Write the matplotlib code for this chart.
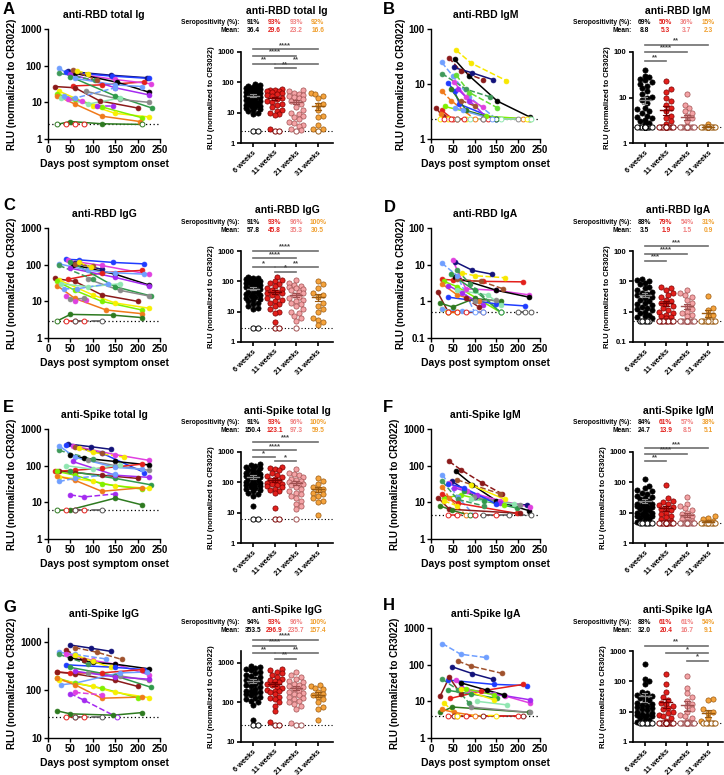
import numpy as np
import matplotlib
matplotlib.use('Agg')
import matplotlib.pyplot as plt
from matplotlib.ticker import FixedLocator, FuncFormatter, NullLocator

plt.rcParams['font.family'] = ['Liberation Sans', 'DejaVu Sans']
plt.rcParams['font.weight'] = 'bold'
plt.rcParams['axes.labelweight'] = 'bold'
plt.rcParams['axes.titleweight'] = 'bold'

# ---------------------------------------------------------------
# data (0 = below detection, drawn at the detection limit)
groups = ['6 weeks', '11 weeks', '21 weeks', '31 weeks']
titles = ['anti-RBD total Ig', 'anti-RBD IgM', 'anti-RBD IgG', 'anti-RBD IgA',
          'anti-Spike total Ig', 'anti-Spike IgM', 'anti-Spike IgG', 'anti-Spike IgA']
letters = ['A', 'B', 'C', 'D', 'E', 'F', 'G', 'H']
seropos = [[91, 93, 93, 92], [69, 50, 36, 15], [91, 93, 96, 100], [88, 79, 54, 31],
           [91, 93, 96, 100], [84, 61, 57, 38], [94, 93, 96, 100], [88, 61, 61, 54]]
means = [[36.4, 29.6, 23.2, 16.6], [8.8, 5.3, 3.7, 2.3], [57.8, 45.8, 35.3, 30.5], [3.5, 1.9, 1.5, 0.9],
         [150.4, 123.1, 97.3, 59.5], [24.7, 13.9, 8.5, 5.1], [353.5, 296.9, 235.7, 157.4], [32.0, 20.4, 16.7, 9.1]]
lods = [2.5, 2.3, 2.9, 0.5, 6.0, 4.4, 27, 4.1]
ylims = [(1, 1000), (1, 100), (1, 1000), (0.1, 100), (1, 1000), (1, 1000), (10, 2000), (1, 1000)]

lines_A = [
    ('navy', [45, 140, 220], [70, 55, 47]),
    ('blue', [40, 142, 225], [66, 52, 45]),
    ('red', [55, 120, 215], [28, 30, 36]),
    ('magenta', [55, 150, 230], [62, 42, 32]),
    ('black', [60, 155, 225], [62, 35, 19]),
    ('purple', [50, 150, 225], [60, 25, 16]),
    ('green', [50, 150, 232], [50, 15, 7]),
    ('grey', [85, 160, 225], [20, 12, 10]),
    ('dkred', [15, 60, 115, 200], [27, 25, 11, 7]),
    ('ltblue', [25, 60, 150, 210], [85, 45, 30, 27]),
    ('green_d', [25, 105], [62, 40]),
    ('yellow', [25, 100, 150, 225], [20, 8, 5, 4]),
    ('lime', [20, 60, 120, 210], [17, 12, 7.5, 3.8]),
    ('orange', [20, 60, 120, 205], [15, 9, 4.2, 3]),
    ('mint', [30, 90, 160], [13, 9, 13]),
    ('brown_d', [55, 110], [75, 40]),
    ('yellow_d', [65, 90], [72, 60]),
    ('purple_d', [110, 145], [8, 8]),
    ('magenta_d', [45, 75], [12, 11]),
    ('ltblue_d', [35, 60, 150], [15, 13, 25]),
    ('dkgreen', [20, 50, 120, 210], [0, 3, 2.6, 0]),
    ('red_lod', [40, 60, 80], [0, 0, 0]),
]
lines_B = [
    ('yellow_d', [58, 92, 173], [41, 24, 11.5]),
    ('black', [54, 88, 152, 227], [28, 14, 4.9, 2.5]),
    ('navy', [52, 94, 142], [20, 16, 12]),
    ('dkred_d', [41, 69, 119], [30, 17, 12]),
    ('ltblue_d', [25, 50, 88, 150], [24.6, 14, 5.8, 0]),
    ('green_d', [25, 81, 136], [15.5, 8, 5.8]),
    ('lime_d', [58, 88, 152], [14.5, 7, 3.7]),
    ('orange_d', [25, 46, 100], [7.4, 5, 0]),
    ('blue', [38, 54, 65, 150], [10.5, 7.6, 4.3, 0]),
    ('magenta', [52, 81, 119], [11, 5.8, 3.8]),
    ('purple', [62, 88, 127, 225], [8, 5, 2.5, 0]),
    ('dkred', [12, 27, 60, 120], [3.6, 2.6, 0, 0]),
    ('red', [25, 50, 130], [3.3, 0, 0]),
    ('lime', [31, 127, 227], [3.9, 2.6, 0]),
    ('dkgreen', [46, 81, 150], [8.1, 3.3, 0]),
    ('ltblue', [56, 73, 140], [3.7, 3.3, 0]),
    ('orange', [23, 60, 210], [2.8, 0, 0]),
    ('brown_d', [69, 100], [5, 4]),
    ('yellow', [20, 40, 80, 220], [0, 0, 0, 0]),
    ('grey', [60, 120, 200], [0, 0, 0]),
    ('mint', [90, 160, 230], [0, 0, 0]),
    ('red_lod', [30, 45, 75], [0, 0, 0]),
]
lines_C = [
    ('blue', [40, 70, 145, 215], [140, 135, 115, 105]),
    ('navy', [60, 120], [110, 75]),
    ('magenta', [45, 120, 225], [130, 95, 55]),
    ('red', [45, 120, 210], [40, 60, 70]),
    ('dkred', [15, 60, 120, 200], [42, 35, 15, 10]),
    ('black', [55, 150, 225], [100, 55, 28]),
    ('purple', [50, 150, 225], [80, 45, 27]),
    ('green', [50, 150, 230], [120, 25, 14]),
    ('grey', [90, 160, 225], [40, 20, 14]),
    ('ltblue', [25, 90, 150, 215], [105, 70, 60, 55]),
    ('green_d', [25, 100], [95, 40]),
    ('yellow', [25, 100, 150, 225], [38, 15, 9, 6.5]),
    ('lime', [20, 60, 120, 210], [35, 20, 10, 5.8]),
    ('orange', [20, 60, 130, 210], [27, 12, 5.8, 4.6]),
    ('brown_d', [60, 100], [105, 90]),
    ('yellow_d', [70, 95], [115, 85]),
    ('mint', [30, 90, 160], [30, 25, 30]),
    ('magenta_d', [40, 60, 85], [14, 10, 11]),
    ('grey', [50, 80], [11.5, 12]),
    ('ltblue_d', [35, 65, 135], [22, 22, 30]),
    ('dkgreen', [20, 50, 145, 210], [0, 4.4, 4.2, 3.6]),
    ('red_lod', [40, 60, 80], [0, 0, 0]),
    ('grey_lod', [60, 120], [0, 0]),
]
lines_D = [
    ('navy', [55, 95, 140], [12, 7, 5.5]),
    ('magenta', [50, 80, 150, 225], [13, 2.2, 2, 1.5]),
    ('yellow_d', [70, 100, 170], [6, 5, 4.4]),
    ('red', [25, 50, 120, 210], [4, 3.8, 3.5, 3.4]),
    ('black', [55, 150, 225], [4.5, 2, 1.3]),
    ('brown_d', [60, 115, 165], [4, 3.5, 2.2]),
    ('ltblue_d', [25, 60, 100], [11, 5, 0]),
    ('lime', [30, 60, 160], [3.5, 2.5, 0]),
    ('green', [45, 100, 160], [5.5, 2, 0]),
    ('blue', [40, 110, 150, 215], [1.3, 1, 0.85, 0.75]),
    ('orange', [25, 60, 110], [3, 1.5, 1]),
    ('dkred', [15, 40, 120], [1.8, 0, 0]),
    ('dkgreen', [20, 50, 100, 160], [0.9, 0.7, 1.2, 1]),
    ('purple', [40, 70, 120], [2.7, 1.7, 0.8]),
    ('grey', [100, 150], [1, 1.1]),
    ('mint', [60, 130, 160], [2, 1.5, 0.8]),
    ('dkred_d', [80, 110], [1.2, 0.7]),
    ('yellow', [25, 40, 60], [0.6, 0, 0]),
    ('ltblue', [25, 70, 120], [0.6, 0.55, 0]),
    ('green_d', [60, 90, 160], [7, 3, 0]),
    ('grey_lod', [200, 215, 230], [0, 0, 0]),
    ('red_lod', [40, 60, 80], [0, 0, 0]),
]
lines_E = [
    ('navy', [45, 95, 140], [390, 330, 280]),
    ('blue', [40, 120, 215], [370, 220, 65]),
    ('magenta', [55, 150, 225], [350, 200, 140]),
    ('brown_d', [60, 120], [320, 220]),
    ('yellow_d', [70, 100, 170], [300, 230, 170]),
    ('black', [50, 80, 150, 225], [200, 160, 130, 105]),
    ('grey', [90, 150, 225], [140, 100, 75]),
    ('green_d', [25, 100], [260, 150]),
    ('ltblue', [25, 60, 150, 210], [350, 170, 90, 80]),
    ('red', [15, 60, 120, 210], [70, 75, 85, 110]),
    ('dkred', [25, 60, 120, 200], [70, 65, 55, 45]),
    ('green', [50, 150, 230], [70, 45, 30]),
    ('purple', [55, 150, 225], [130, 55, 48]),
    ('yellow', [25, 100, 150, 225], [50, 38, 28, 24]),
    ('lime', [20, 60, 120, 210], [70, 55, 32, 23]),
    ('orange', [20, 60, 120, 210], [52, 40, 20, 25]),
    ('purple_d', [50, 80, 150], [16, 14, 17]),
    ('dkgreen', [20, 50, 150, 210], [0, 6.3, 13, 8.5]),
    ('mint', [40, 100, 160], [100, 80, 105]),
    ('ltblue_d', [25, 60, 150], [37, 45, 60]),
    ('red_lod', [40, 60, 80], [0, 0, 0]),
    ('grey_lod', [60, 120], [0, 0]),
]
lines_F = [
    ('dkred_d', [42, 68, 117, 163], [130, 78, 34, 17]),
    ('black', [57, 95, 150, 225], [70, 30, 11, 5.9]),
    ('brown_d', [60, 159], [41, 17]),
    ('yellow', [91, 170], [30, 12]),
    ('navy', [49, 102, 151, 220], [37, 14, 9.5, 8.5]),
    ('magenta', [42, 83, 159, 227], [33, 20, 11, 7.5]),
    ('purple', [53, 106, 159], [25, 16, 9.5]),
    ('lime', [30, 68, 167], [13, 16, 8.5]),
    ('ltblue_d', [26, 61, 100], [57, 14, 0]),
    ('green_d', [26, 61, 121], [37, 12, 8]),
    ('orange_d', [26, 42, 80], [27, 13, 0]),
    ('red', [26, 61, 197], [17, 9.5, 5]),
    ('dkred', [17, 42, 205], [13, 6.5, 5]),
    ('dkgreen', [21, 49, 90], [8, 6, 0]),
    ('green', [76, 121, 197], [20, 11, 7]),
    ('grey', [98, 205], [14, 8.5]),
    ('mint', [91, 190], [12, 9]),
    ('blue', [40, 75, 150], [32, 25, 9]),
    ('yellow_d', [30, 60], [11, 8]),
    ('red_lod', [40, 60, 100, 150], [0, 0, 0, 0]),
    ('grey_lod', [120, 180, 230], [0, 0, 0]),
]
lines_G = [
    ('navy', [50, 95, 140], [880, 760, 650]),
    ('brown_d', [60, 110, 165], [780, 620, 440]),
    ('ltblue_d', [25, 60, 130], [620, 560, 450]),
    ('green_d', [25, 90], [560, 350]),
    ('dkred_d', [40, 80], [700, 420]),
    ('magenta', [40, 100, 150, 225], [580, 420, 350, 210]),
    ('black', [50, 100, 150, 225], [480, 380, 350, 280]),
    ('yellow', [60, 100, 140], [550, 400, 300]),
    ('blue', [40, 150, 215], [340, 300, 270]),
    ('red', [20, 50, 120, 210], [240, 230, 230, 270]),
    ('dkred', [20, 60, 150, 200], [240, 220, 160, 120]),
    ('green', [50, 150, 230], [300, 200, 115]),
    ('grey', [90, 160, 225], [230, 200, 160]),
    ('ltblue', [30, 60, 160, 220], [130, 140, 230, 240]),
    ('purple', [60, 150, 225], [250, 190, 170]),
    ('lime', [20, 60, 120, 200], [180, 140, 110, 70]),
    ('yellow', [25, 100, 150, 225], [165, 120, 90, 70]),
    ('orange', [20, 60, 120, 210], [180, 130, 68, 72]),
    ('magenta_d', [60, 120], [90, 80]),
    ('purple_d', [50, 80, 155], [85, 62, 0]),
    ('dkgreen', [20, 50, 145, 210], [37, 32, 30, 34]),
    ('red_lod', [40, 60, 80], [0, 0, 0]),
    ('grey_lod', [60, 120], [0, 0]),
]
lines_H = [
    ('ltblue_d', [26, 68, 125], [376, 193, 157]),
    ('brown_d', [62, 91, 163], [125, 92, 58]),
    ('navy', [49, 95, 142], [87, 57, 40]),
    ('blue', [39, 144, 220], [38, 29, 27]),
    ('red', [44, 114, 212], [12, 19, 29]),
    ('dkred', [21, 42, 68], [14, 45, 16]),
    ('magenta', [57, 83, 170, 227], [38, 20, 14, 9]),
    ('purple', [68, 144, 227], [23, 16, 11]),
    ('black', [68, 129, 167], [32, 20, 15]),
    ('green_d', [26, 61, 87], [40, 21, 9]),
    ('green', [38, 91, 151], [20, 16, 12]),
    ('lime', [80, 144], [22, 15]),
    ('yellow', [68, 144], [22, 11]),
    ('dkgreen', [21, 49, 225], [5, 7, 5]),
    ('grey', [91, 227], [7, 5]),
    ('orange', [25, 53, 100], [6, 5, 0]),
    ('mint', [106, 174], [10, 8]),
    ('dkred', [53, 120, 210], [0, 0, 0]),
    ('red_lod', [40, 60, 80, 200], [0, 0, 0, 0]),
    ('yellow_d', [30, 60, 150], [9, 0, 0]),
]

dots_A = [
    [85, 80, 75, 70, 68, 65, 62, 60, 58, 55, 52, 50, 48, 45, 42, 40, 38, 36, 34, 32, 30, 28, 26, 25, 24, 22, 21,
     20, 19, 18, 17, 16, 15, 14, 13, 12, 11, 10, 9, 0, 0],
    [62, 58, 55, 52, 50, 48, 45, 42, 38, 35, 30, 28, 25, 22, 20, 18, 15, 12, 11, 10, 9, 8.5, 3, 0, 0],
    [55, 50, 45, 42, 38, 35, 32, 30, 28, 25, 22, 20, 15, 12, 10, 9, 8, 7, 6, 5, 4.5, 4, 3.5, 3, 2.6, 0],
    [45, 42, 35, 30, 20, 18, 12, 8, 7, 4, 3, 2.8, 0],
]
dots_B = [
    [40, 30, 28, 26, 24, 22, 20, 18, 16, 14, 12, 10.5, 10, 9, 7.5, 6, 5.5, 5, 4.5, 4, 3.8, 3.5, 3.2, 3, 2.8, 2.6,
     0, 0, 0, 0, 0, 0, 0, 0, 0, 0, 0, 0, 0, 0, 0, 0],
    [23, 15, 13, 10, 8.5, 7, 6, 5, 4, 3.5, 3, 2.6, 0, 0, 0, 0, 0, 0, 0, 0, 0, 0],
    [12, 7, 6, 5, 4.5, 4, 3.5, 3, 0, 0, 0, 0, 0, 0, 0, 0, 0, 0, 0, 0, 0, 0],
    [2.6, 0, 0, 0, 0, 0, 0, 0, 0, 0, 0, 0, 0],
]
dots_C = [
    [135, 130, 125, 120, 115, 110, 105, 100, 95, 90, 85, 80, 75, 70, 65, 60, 55, 50, 45, 42, 40, 38, 35, 32, 30,
     28, 26, 25, 22, 20, 18, 15, 13, 12, 0, 0],
    [140, 110, 100, 90, 80, 70, 60, 55, 50, 45, 42, 40, 35, 30, 28, 25, 22, 20, 18, 15, 12, 10, 9, 4.5, 0, 0],
    [110, 90, 75, 70, 65, 60, 55, 50, 45, 40, 35, 30, 28, 25, 22, 20, 18, 15, 12, 10, 9, 7, 6, 5, 0],
    [105, 80, 60, 40, 35, 30, 20, 15, 12, 10, 6, 5.5, 4.5, 3.5],
]
dots_D = [
    [12, 11, 10, 9, 8, 6.5, 6, 5, 4.5, 4, 3.8, 3.5, 3, 2.8, 2.5, 2.2, 2, 1.8, 1.6, 1.4, 1.3, 1.2, 1.1, 1, 0.9,
     0.8, 0.7, 0.65, 0.6, 0, 0, 0, 0, 0],
    [6.5, 6, 5, 4, 3.5, 3, 2.5, 2.2, 2, 1.8, 1.5, 1.3, 1.1, 1, 0.9, 0.8, 0.7, 0.65, 0.6, 0, 0, 0, 0, 0, 0, 0],
    [5, 4, 3.5, 3, 2.5, 2, 1.5, 1.2, 1, 0.9, 0.8, 0.7, 0, 0, 0, 0, 0, 0, 0, 0, 0, 0, 0],
    [3.3, 1.3, 1.1, 0.8, 0.7, 0, 0, 0, 0, 0, 0, 0, 0],
]
dots_E = [
    [400, 380, 350, 330, 300, 280, 260, 240, 220, 200, 190, 180, 170, 160, 150, 140, 130, 120, 110, 100, 95, 90,
     85, 80, 75, 70, 65, 60, 55, 50, 45, 40, 35, 16, 0, 0],
    [320, 300, 280, 250, 200, 180, 160, 150, 130, 120, 110, 100, 95, 90, 85, 80, 75, 70, 60, 55, 50, 45, 14, 0, 0],
    [280, 200, 190, 170, 150, 130, 120, 110, 100, 95, 90, 85, 80, 70, 60, 50, 45, 40, 35, 30, 25, 20, 17, 13, 0],
    [140, 110, 90, 70, 60, 55, 45, 40, 35, 30, 25, 22, 8.5],
]
dots_F = [
    [130, 75, 65, 55, 50, 45, 40, 35, 32, 30, 28, 25, 22, 20, 19, 18, 17, 16, 15, 14, 13, 12, 11, 10, 9.5, 9, 8.5,
     8, 7.5, 7, 6.5, 6, 5.5, 5, 0, 0, 0, 0, 0, 0],
    [80, 30, 25, 22, 20, 18, 15, 14, 13, 12, 10, 9, 8, 7, 6, 5.5, 5, 0, 0, 0, 0, 0, 0, 0, 0, 0, 0],
    [32, 20, 16, 14, 12, 10, 9, 8, 7, 6, 5.5, 5, 0, 0, 0, 0, 0, 0, 0, 0, 0, 0],
    [7.5, 6.5, 6, 5.5, 5, 0, 0, 0, 0, 0, 0, 0, 0],
]
dots_G = [
    [850, 800, 750, 700, 650, 600, 550, 500, 480, 450, 400, 380, 350, 320, 300, 280, 260, 240, 220, 200, 190, 180,
     170, 160, 150, 140, 130, 120, 110, 100, 85, 37, 0, 0],
    [720, 650, 600, 550, 500, 450, 400, 380, 350, 320, 300, 280, 250, 230, 210, 200, 190, 180, 160, 140, 130, 120,
     100, 80, 60, 32, 0, 0],
    [600, 500, 450, 400, 350, 320, 300, 280, 260, 240, 220, 200, 180, 170, 160, 150, 140, 130, 120, 110, 100, 90,
     80, 70, 30, 0, 0],
    [280, 260, 230, 220, 180, 160, 150, 140, 120, 100, 75, 70, 35],
]
dots_H = [
    [370, 120, 100, 80, 45, 40, 35, 32, 30, 28, 25, 22, 20, 18, 16, 15, 14, 13, 12, 11, 10, 9, 8.5, 8, 7.5, 7, 6.5,
     6, 5.5, 5, 4.5, 0, 0, 0, 0, 0, 0],
    [180, 80, 45, 30, 25, 20, 18, 15, 13, 12, 10, 9, 8, 7, 6, 5, 0, 0, 0, 0, 0, 0, 0, 0, 0, 0, 0, 0],
    [150, 60, 40, 30, 22, 18, 15, 12, 10, 8, 7, 6, 5, 0, 0, 0, 0, 0, 0, 0, 0, 0, 0, 0],
    [27, 25, 12, 10, 9, 6, 5, 0, 0, 0, 0, 0, 0],
]

# significance bars: (group i, group j, label, height in axes fraction)
sig_A = [(0, 3, '****', 1.03), (0, 2, '****', 0.96), (0, 1, '**', 0.87), (1, 3, '**', 0.87), (1, 2, '**', 0.82)]
sig_B = [(0, 3, '**', 1.08), (0, 2, '****', 1.0), (0, 1, '**', 0.9)]
sig_C = [(0, 3, '****', 1.0), (0, 2, '****', 0.92), (0, 1, '*', 0.82), (1, 3, '**', 0.82), (1, 2, '*', 0.77)]
sig_D = [(0, 3, '***', 1.05), (0, 2, '****', 0.97), (0, 1, '***', 0.89)]
sig_E = [(0, 3, '***', 1.11), (0, 2, '****', 1.02), (0, 1, '*', 0.94), (1, 2, '*', 0.9)]
sig_F = [(0, 3, '***', 1.04), (0, 2, '****', 0.98), (0, 1, '**', 0.9)]
sig_G = [(0, 3, '****', 1.12), (0, 2, '****', 1.056), (0, 1, '**', 0.974), (1, 3, '**', 0.974), (1, 2, '**', 0.914)]
sig_H = [(0, 3, '**', 1.055), (1, 3, '*', 0.975), (2, 3, '*', 0.895)]

all_lines = [lines_A, lines_B, lines_C, lines_D, lines_E, lines_F, lines_G, lines_H]
all_dots = [dots_A, dots_B, dots_C, dots_D, dots_E, dots_F, dots_G, dots_H]
all_sig = [sig_A, sig_B, sig_C, sig_D, sig_E, sig_F, sig_G, sig_H]

# ---------------------------------------------------------------
# styles
subject_style = {
    'blue': ('#1f3cff', '-'), 'navy': ('#12127a', '-'), 'black': ('#000000', '-'),
    'red': ('#e3201c', '-'), 'dkred': ('#8b1a1a', '-'), 'magenta': ('#e040e0', '-'),
    'purple': ('#a42af0', '-'), 'green': ('#2f9a4a', '-'), 'dkgreen': ('#2e7a20', '-'),
    'lime': ('#7ff000', '-'), 'yellow': ('#f8f000', '-'), 'orange': ('#f07a1a', '-'),
    'grey': ('#8a8a8a', '-'), 'ltblue': ('#6f9fff', '-'), 'mint': ('#8fe6b0', '-'),
    'brown_d': ('#a0522d', '--'), 'yellow_d': ('#f8e800', '--'), 'purple_d': ('#a42af0', '--'),
    'ltblue_d': ('#6f9fff', '--'), 'green_d': ('#3f9a5a', '--'), 'orange_d': ('#f07a1a', '--'),
    'dkred_d': ('#8b1a1a', '--'), 'magenta_d': ('#e040e0', '--'), 'lime_d': ('#66dd33', '--'),
    'red_lod': ('#e3201c', '-.'), 'grey_lod': ('#555555', '-.'),
}
face = ['#000000', '#e3201c', '#f4a3a6', '#f5a33c']
edge = ['#000000', '#7a0000', '#a05050', '#9a5a10']
mean_col = ['#8a8a8a', '#7a0000', '#a05050', '#9a5a10']
sero_col = ['#000000', '#e3201c', '#f08080', '#f0a030']

W, H = 724, 775
fig = plt.figure(figsize=(W / 100, H / 100), dpi=100)


def add_ax(l, t, r, b):
    return fig.add_axes([l / W, 1 - b / H, (r - l) / W, (b - t) / H])


def fmt(v, pos=None):
    return '%g' % v


def style_axis(ax, ylim, size, lw=1.0):
    ax.set_yscale('log')
    ax.set_ylim(*ylim)
    dec = [10.0 ** k for k in range(int(np.floor(np.log10(ylim[0]))), int(np.log10(ylim[1])) + 1)
           if ylim[0] <= 10.0 ** k <= ylim[1]]
    ax.yaxis.set_major_locator(FixedLocator(dec))
    ax.yaxis.set_minor_locator(NullLocator())
    ax.yaxis.set_major_formatter(FuncFormatter(fmt))
    for s in ['top', 'right']:
        ax.spines[s].set_visible(False)
    for s in ['left', 'bottom']:
        ax.spines[s].set_linewidth(lw)
    ax.tick_params(labelsize=size, width=lw, length=3, pad=1.5)


def swarm(vals, ylim, w_px, h_px, xr, d=4.8, half=0.42):
    lo, hi = np.log10(ylim[0]), np.log10(ylim[1])
    py = (np.log10(vals) - lo) / (hi - lo) * h_px
    upx = xr / w_px
    cands = [0.0]
    k = 1
    while k * d * 0.5 * upx <= half:
        cands += [k * d * 0.5, -k * d * 0.5]
        k += 1
    placed = []
    offs = np.zeros(len(vals))
    for i in np.argsort(py, kind='stable'):
        best, bestd = 0.0, -1.0
        for c in cands:
            dmin = min([np.hypot(c - qx, py[i] - qy) for qx, qy in placed] or [99.0])
            if dmin >= d:
                best = c
                break
            if dmin > bestd:
                best, bestd = c, dmin
        placed.append((best, py[i]))
        offs[i] = best * upx
    return offs


row_top = [29, 228, 429, 628]
line_x = [(48, 160), (431, 540)]
scat_x = [(241, 333), (633, 723)]
letter_pos = [(3, 2), (383, 2), (3, 198), (384, 200), (3, 400), (383, 400), (3, 600), (383, 598)]
XL = (-0.55, 3.7)

for p in range(8):
    col, row = p % 2, p // 2
    top = row_top[row]
    lod = lods[p]
    ylim = ylims[p]

    # ---- trajectories
    ax = add_ax(line_x[col][0], top, line_x[col][1], top + 110)
    style_axis(ax, ylim, 7)
    ax.set_xlim(0, 250)
    ax.set_xticks([0, 50, 100, 150, 200, 250])
    ax.plot([0, 250], [lod, lod], ls=(0, (1, 2)), color='black', lw=0.9, zorder=1)
    for key, days, vals in all_lines[p]:
        c, ls = subject_style[key]
        y = [v if v > 0 else lod for v in vals]
        ax.plot(days, y, color=c, ls=ls, lw=1.1, zorder=2)
        for dd, v, yy in zip(days, vals, y):
            if v > 0:
                ax.plot(dd, yy, 'o', ms=3.5, mfc=c, mec=c, mew=0.5, zorder=3)
            else:
                ax.plot(dd, yy, 'o', ms=3.5, mfc='white', mec=c, mew=0.7, zorder=3)
    ax.set_title(titles[p], fontsize=7.5, pad=8)
    ax.set_ylabel('RLU (normalized to CR3022)', fontsize=7, labelpad=2)
    ax.set_xlabel('Days post symptom onset', fontsize=7.5, labelpad=3)

    # ---- dot plot
    sx0, sx1 = scat_x[col]
    st = top + 23
    ax2 = add_ax(sx0, st, sx1, st + 91)
    style_axis(ax2, ylim, 5.5, lw=1.2)
    ax2.set_xlim(*XL)
    ax2.set_xticks(range(4))
    ax2.set_xticklabels(groups, rotation=45, ha='right', rotation_mode='anchor', fontsize=5.3)
    ax2.set_ylabel('RLU (normalized to CR3022)', fontsize=5.5, labelpad=2)
    ax2.plot(XL, [lod, lod], ls=(0, (1, 2)), color='black', lw=0.8, zorder=1)
    for i, vals in enumerate(all_dots[p]):
        vals = np.array(vals, dtype=float)
        y = np.where(vals > 0, vals, lod)
        offs = swarm(y, ylim, sx1 - sx0, 91, XL[1] - XL[0])
        pos = vals > 0
        ax2.scatter(i + offs[pos], y[pos], s=14, c=face[i], edgecolors=edge[i], linewidths=0.5, zorder=3)
        ax2.scatter(i + offs[~pos], y[~pos], s=14, c='white', edgecolors=edge[i], linewidths=0.7, zorder=3)
        m = means[p][i]
        sem = y.std(ddof=1) / np.sqrt(len(y))
        ax2.plot([i - 0.28, i + 0.28], [m, m], color=mean_col[i], lw=1.0, zorder=4)
        lo_e = max(m - sem, ylim[0])
        ax2.plot([i, i], [lo_e, m + sem], color=mean_col[i], lw=0.8, zorder=4)
        for yy in (lo_e, m + sem):
            ax2.plot([i - 0.13, i + 0.13], [yy, yy], color=mean_col[i], lw=0.8, zorder=4)
    tr = ax2.get_xaxis_transform()
    for i, j, lab, h in all_sig[p]:
        ax2.plot([i, j], [h, h], color='#6e6e6e', lw=1.2, transform=tr, clip_on=False)
        ax2.text((i + j) / 2, h + 0.004, lab, transform=tr, ha='center', va='bottom',
                 fontsize=5.5, color='#444444')
    # header texts
    ax2.annotate(titles[p], xy=(0.5, 1), xycoords='axes fraction', xytext=(0, 41 * 0.72),
                 textcoords='offset points', ha='center', va='center', fontsize=7.5)
    for lab, dy, vals in [('Seropositivity (%):', 29, ['%d%%' % v for v in seropos[p]]),
                          ('Mean:', 21, ['%.1f' % v for v in means[p]])]:
        ax2.annotate(lab, xy=(-0.6, 1), xycoords=('data', 'axes fraction'), xytext=(0, dy * 0.72),
                     textcoords='offset points', ha='right', va='center', fontsize=4.8)
        for i, t in enumerate(vals):
            ax2.annotate(t, xy=(i, 1), xycoords=('data', 'axes fraction'), xytext=(0, dy * 0.72),
                         textcoords='offset points', ha='center', va='center', fontsize=4.8,
                         color=sero_col[i])

    fig.text(letter_pos[p][0] / W, 1 - letter_pos[p][1] / H, letters[p], fontsize=12,
             ha='left', va='top')

fig.savefig('out.png', dpi=100)
